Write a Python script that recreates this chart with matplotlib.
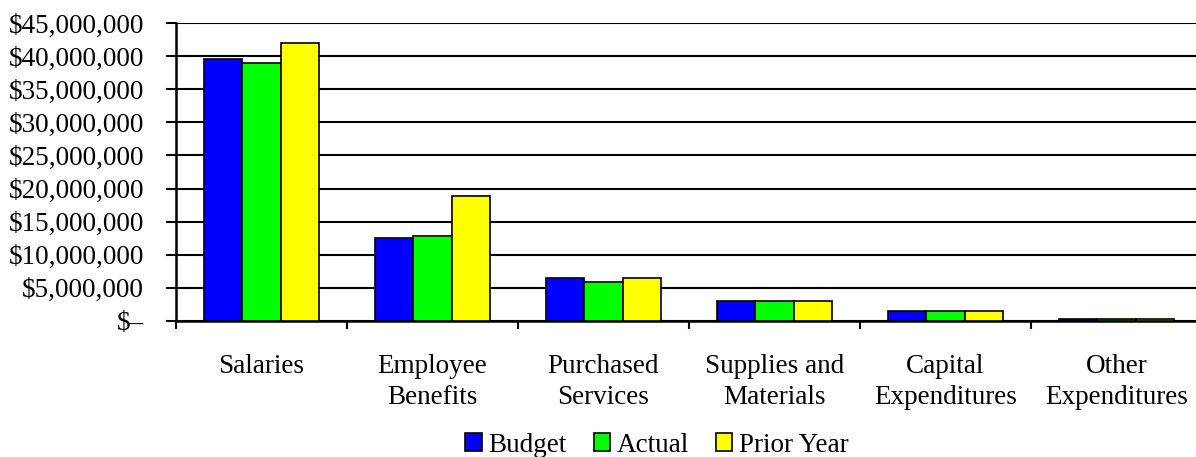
import matplotlib
matplotlib.use("Agg")
import matplotlib.pyplot as plt
import numpy as np
from matplotlib.ticker import FuncFormatter, MultipleLocator

categories = ["Salaries", "Employee\nBenefits", "Purchased\nServices",
              "Supplies and\nMaterials", "Capital\nExpenditures", "Other\nExpenditures"]
budget = [39.6e6, 12.6e6, 6.55e6, 3.0e6, 1.5e6, 0.3e6]
actual = [39.0e6, 12.9e6, 5.95e6, 3.0e6, 1.5e6, 0.3e6]
prior_year = [42.0e6, 18.9e6, 6.55e6, 3.0e6, 1.5e6, 0.3e6]
series_names = ["Budget", "Actual", "Prior Year"]
colors = ["#0000FF", "#00FF00", "#FFFF00"]

plt.rcParams['font.family'] = ['Liberation Serif', 'DejaVu Serif']
FS = 19.5

fig = plt.figure(figsize=(11.96, 4.57), dpi=100)
ax = fig.add_axes([176/1196, 1 - 321/457, (1202 - 176)/1196, (321 - 23)/457])

x = np.arange(len(categories))
w = 0.224
for i, (vals, name, c) in enumerate(zip([budget, actual, prior_year], series_names, colors)):
    ax.bar(x + (i - 1) * w, vals, width=w, color=c, edgecolor="black",
           linewidth=1.2, label=name, zorder=3)

ax.set_xlim(-0.5, len(categories) - 0.5)
ax.set_ylim(0, 45e6)
ax.yaxis.set_major_locator(MultipleLocator(5e6))
ax.yaxis.set_major_formatter(FuncFormatter(lambda v, p: "$–" if v == 0 else f"${v:,.0f}"))
ax.grid(axis="y", color="black", linewidth=1.5, zorder=0)
ax.set_axisbelow(True)

ax.set_xticks(np.arange(len(categories) + 1) - 0.5, minor=False)
ax.set_xticklabels([])
ax.set_xticks(x, minor=True)
ax.set_xticklabels(categories, minor=True, fontsize=FS, linespacing=1.3)
ax.tick_params(axis="x", which="minor", length=0, pad=24)
ax.tick_params(axis="x", which="major", length=6, width=1.5, direction="out")
ax.tick_params(axis="y", length=7, width=1.5, labelsize=FS, pad=16)

for s in ["top", "right"]:
    ax.spines[s].set_visible(False)
for s in ["left", "bottom"]:
    ax.spines[s].set_linewidth(1.8)

fig.legend(loc="center", bbox_to_anchor=(657/1196, 1 - 445/457), ncol=3, frameon=False,
           fontsize=FS, handlelength=0.6, handleheight=0.6, handletextpad=0.25,
           columnspacing=1.0, borderpad=0)

fig.savefig("out.png", dpi=100)
